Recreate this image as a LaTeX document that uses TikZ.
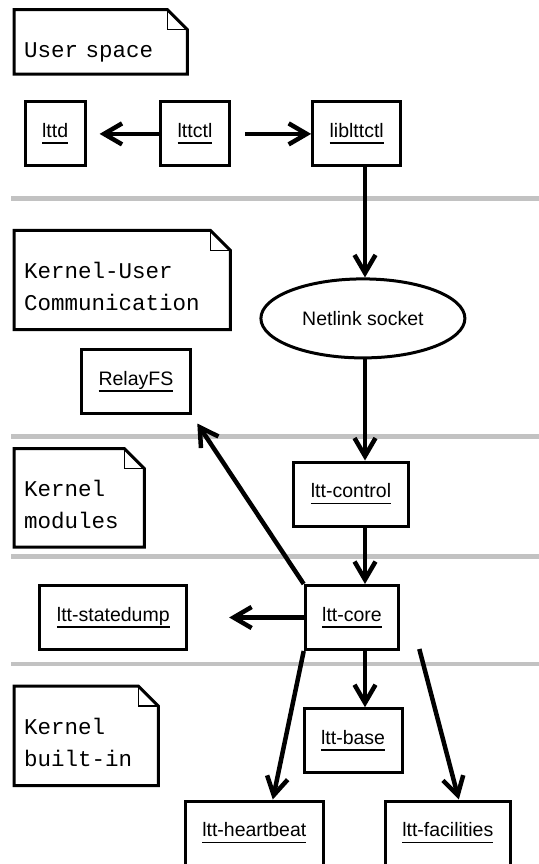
\documentclass[tikz,border=0pt]{standalone}
\usepackage{fontspec}
\setmainfont{Liberation Sans}
\setmonofont{Liberation Mono}
\usetikzlibrary{shapes.geometric}
\usetikzlibrary{arrows.meta}

\newsavebox{\namebox}
\newcommand{\objname}[1]{\sbox{\namebox}{#1}\rlap{\rule[-6.2pt]{\wd\namebox}{1.6pt}}\usebox{\namebox}}

\begin{document}
\begin{tikzpicture}[x=1pt,y=-1pt,
    obj/.style={draw, line width=3pt, rectangle, minimum height=64pt, inner xsep=17pt, font=\fontsize{19.5}{23}\selectfont},
    note/.style={font=\ttfamily\fontsize{22.5}{32}\selectfont, anchor=north west, align=left, inner xsep=10pt, inner ysep=0pt, text height=48pt, text depth=16pt},
    link/.style={line width=4.5pt, -{Straight Barb[length=18pt,width=21pt]}},
    layer/.style={line width=4.5pt, color=black!24}]
      \useasboundingbox (0,0) rectangle (538,864);

      \foreach \y in {198.7,436.7,556.3,664}
        \draw[layer] (11.3,\y) -- (540,\y);

      \node[note, text width=153pt] (usernote) at (14,9.7) {User space};
      \node[note, text width=196pt, text depth=51pt] (kunote) at (14,230.3) {Kernel-User\\Communication};
      \node[note, text width=110pt, text depth=50pt] (modnote) at (14,448.7) {Kernel\\modules};
      \node[note, text width=124pt, text depth=51pt] (builtinnote) at (14,686.1) {Kernel\\built-in};
      \foreach \n in {usernote,kunote,modnote,builtinnote}{
        \draw[line width=3pt] (\n.north west) -- ([xshift=-20pt]\n.north east) -- ([yshift=-20pt]\n.north east) -- (\n.south east) -- (\n.south west) -- cycle;
        \draw[line width=1.5pt] ([xshift=-20pt]\n.north east) |- ([yshift=-20pt]\n.north east);
      }

      \node[obj] (lttd) at (55.1,133.9) {\objname{lttd}};
      \node[obj] (lttctl) at (195,133.9) {\objname{lttctl}};
      \node[obj] (liblttctl) at (356.7,133.9) {\objname{liblttctl}};
      \node[draw, ellipse, line width=3pt, minimum width=204pt, minimum height=79pt, inner sep=0pt, font=\fontsize{19.5}{23}\selectfont] (netlink) at (362.9,318.4) {Netlink socket};
      \node[obj] (relayfs) at (135.9,381.7) {\objname{RelayFS}};
      \node[obj] (control) at (351,494) {\objname{ltt-control}};
      \node[obj] (statedump) at (113.3,617.5) {\objname{ltt-statedump}};
      \node[obj] (core) at (352,617.5) {\objname{ltt-core}};
      \node[obj] (base) at (353.1,740.7) {\objname{ltt-base}};
      \node[obj] (heartbeat) at (254.3,833) {\objname{ltt-heartbeat}};
      \node[obj] (facilities) at (447.8,833) {\objname{ltt-facilities}};

      \coordinate (spine) at (365,0);

      \draw[link, shorten >=13pt] (lttctl.west) -- (lttd.east);
      \draw[link, shorten <=14.5pt] (lttctl.east) -- (liblttctl.west);
      \draw[link] (liblttctl.south -| spine) -- (netlink.north -| spine);
      \draw[link] (netlink.south -| spine) -- (control.north -| spine);
      \draw[link] (control.south -| spine) -- (core.north -| spine);
      \draw[link, shorten >=10pt] (core.north west) -- (relayfs.south east);
      \draw[link, shorten >=41pt] (core.west) -- (statedump.east);
      \draw[link] (core.south -| spine) -- (base.north -| spine);
      \draw[link] (core.south west) -- ([xshift=18.5pt]heartbeat.north);
      \draw[link] ([xshift=19pt,yshift=2pt]core.south east) -- ([xshift=11pt]facilities.north);
\end{tikzpicture}
\end{document}
